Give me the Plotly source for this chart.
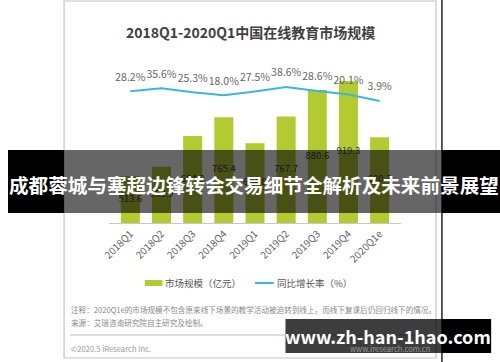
import plotly.graph_objects as go

W, H = 500, 362

categories = ["2018Q1", "2018Q2", "2018Q3", "2018Q4", "2019Q1", "2019Q2", "2019Q3", "2019Q4", "2020Q1e"]
market_size = [513.6, 553.9, 684.8, 765.4, 654.8, 767.7, 880.6, 919.3, 680.3]
growth_rate = [28.2, 35.6, 25.3, 18.0, 27.5, 38.6, 28.6, 20.1, 3.9]

title_text = "2018Q1-2020Q1中国在线教育市场规模"
bar_name = "市场规模（亿元）"
line_name = "同比增长率（%）"
note_text = "注释：2020Q1e的市场规模不包含原来线下场景的教学活动被迫转到线上，而线下复课后仍回归线下的情况。"
source_text = "来源：艾瑞咨询研究院自主研究及绘制。"
copyright_text = "©2020.5 iResearch Inc."
site_text = "www.iresearch.com.cn"
banner_text = "成都蓉城与塞超边锋转会交易细节全解析及未来前景展望"
watermark_text = "www.zh-han-1hao.com"

FONT = "Noto Sans CJK SC, Noto Sans, sans-serif"
GREEN = "#b3cb30"
BLUE = "#3db6da"


def px(x):
    return x / W


def py(y):
    return 1 - y / H


# plot area in pixels: x 102.5..399.5, y 60..223
bar_base = 315
bar_scale = 0.235  # px per unit
y_top = bar_base + (223 - 60) / bar_scale
g_scale = 0.403
g_zero_px = 102.5
y2_min = -(223 - g_zero_px) / g_scale
y2_max = (g_zero_px - 60) / g_scale

fig = go.Figure()

fig.add_trace(go.Bar(
    x=categories, y=market_size, name=bar_name,
    marker=dict(color=GREEN, line=dict(width=0)),
    textposition="none", showlegend=False,
))

# value labels at the visible middle of each bar
fig.add_trace(go.Scatter(
    x=categories, y=[(v + bar_base) / 2 for v in market_size],
    mode="text", text=[f"{v:.1f}" for v in market_size],
    textfont=dict(size=9.5, color="#3a3a3a", family=FONT),
    showlegend=False, hoverinfo="skip",
))

fig.add_trace(go.Scatter(
    x=categories, y=growth_rate, name=line_name, yaxis="y2",
    mode="lines+markers+text",
    line=dict(color=BLUE, width=2),
    marker=dict(size=11, opacity=0, color=BLUE),
    text=[f"{v:.1f}%" for v in growth_rate],
    textposition="top center",
    textfont=dict(size=10.5, color="#666666", family=FONT),
    showlegend=False,
))

fig.update_layout(
    width=W, height=H,
    margin=dict(l=0, r=0, t=0, b=0),
    paper_bgcolor="white", plot_bgcolor="white",
    bargap=0.39,
    showlegend=False,
    xaxis=dict(domain=[px(102.5), px(399.5)], showline=True, linecolor="#c8c8c8", linewidth=1,
               showgrid=False, zeroline=False, ticks="", tickangle=-45,
               tickfont=dict(size=10, color="#666666", family=FONT)),
    yaxis=dict(domain=[py(223), py(60)], range=[bar_base, y_top], visible=False,
               showgrid=False, zeroline=False),
    yaxis2=dict(range=[y2_min, y2_max], overlaying="y", visible=False, showgrid=False, zeroline=False),
    font=dict(family=FONT),
)

shapes = [
    dict(type="rect", xref="paper", yref="paper", x0=px(57), x1=px(435), y0=py(358), y1=py(1),
         line=dict(color="#c4c4c4", width=1.2), fillcolor="rgba(0,0,0,0)", layer="below"),
    dict(type="line", xref="paper", yref="paper", x0=px(63), x1=px(430), y0=py(335), y1=py(335),
         line=dict(color="#bdbdbd", width=1), layer="below"),
    # legend swatches
    dict(type="rect", xref="paper", yref="paper", x0=px(139), x1=px(157), y0=py(286), y1=py(280),
         line=dict(width=0), fillcolor=GREEN, layer="below"),
    dict(type="line", xref="paper", yref="paper", x0=px(251), x1=px(270), y0=py(283), y1=py(283),
         line=dict(color=BLUE, width=2), layer="below"),
    dict(type="line", xref="paper", yref="paper", x0=px(441), x1=px(441), y0=0, y1=1,
         line=dict(color="#222222", width=1.5), layer="above"),
    dict(type="rect", xref="paper", yref="paper", x0=0, x1=px(57), y0=py(213), y1=py(150),
         line=dict(width=0), fillcolor="black", layer="above"),
    dict(type="rect", xref="paper", yref="paper", x0=px(57), x1=px(441), y0=py(213), y1=py(150),
         line=dict(width=0), fillcolor="rgba(0,0,0,0.6)", layer="above"),
    dict(type="rect", xref="paper", yref="paper", x0=px(441), x1=1, y0=py(213), y1=py(150),
         line=dict(width=0), fillcolor="black", layer="above"),
    dict(type="rect", xref="paper", yref="paper", x0=px(282), x1=px(441), y0=py(353), y1=py(319),
         line=dict(width=0), fillcolor="rgba(0,0,0,0.76)", layer="above"),
    dict(type="rect", xref="paper", yref="paper", x0=px(441), x1=px(491), y0=py(353), y1=py(319),
         line=dict(width=0), fillcolor="black", layer="above"),
]
fig.update_layout(shapes=shapes)


def note(text, x, y, size, color, anchor="left", bold=False):
    return dict(text=f"<b>{text}</b>" if bold else text, x=px(x), y=py(y), xref="paper", yref="paper",
                xanchor=anchor, yanchor="middle", showarrow=False, borderpad=0,
                font=dict(size=size, color=color, family=FONT))


annotations = [
    note(title_text, 246, 32, 14, "#404040", "center", bold=True),
    note(bar_name, 159, 283, 9.5, "#555555"),
    note(line_name, 272, 283, 9.5, "#555555"),
    note(note_text, 63, 309, 7.6, "#8a8a8a"),
    note(source_text, 63, 322, 7.6, "#8a8a8a"),
    note(copyright_text, 63, 348, 7.6, "#9a9a9a"),
    note(site_text, 430, 348, 7.6, "#9a9a9a", "right"),
    note(banner_text, 250, 184, 19.6, "white", "center", bold=True),
    note(watermark_text, 386, 336, 18, "white", "center", bold=True),
]
fig.update_layout(annotations=annotations)

post = ("document.body.style.margin='0';document.body.style.padding='0';"
        "document.body.style.overflow='hidden';"
        "var d=document.getElementById('{plot_id}');"
        "d.style.position='absolute';d.style.left='0px';d.style.top='0px';")

fig.write_html("out.html", config={"displayModeBar": False}, post_script=post)
